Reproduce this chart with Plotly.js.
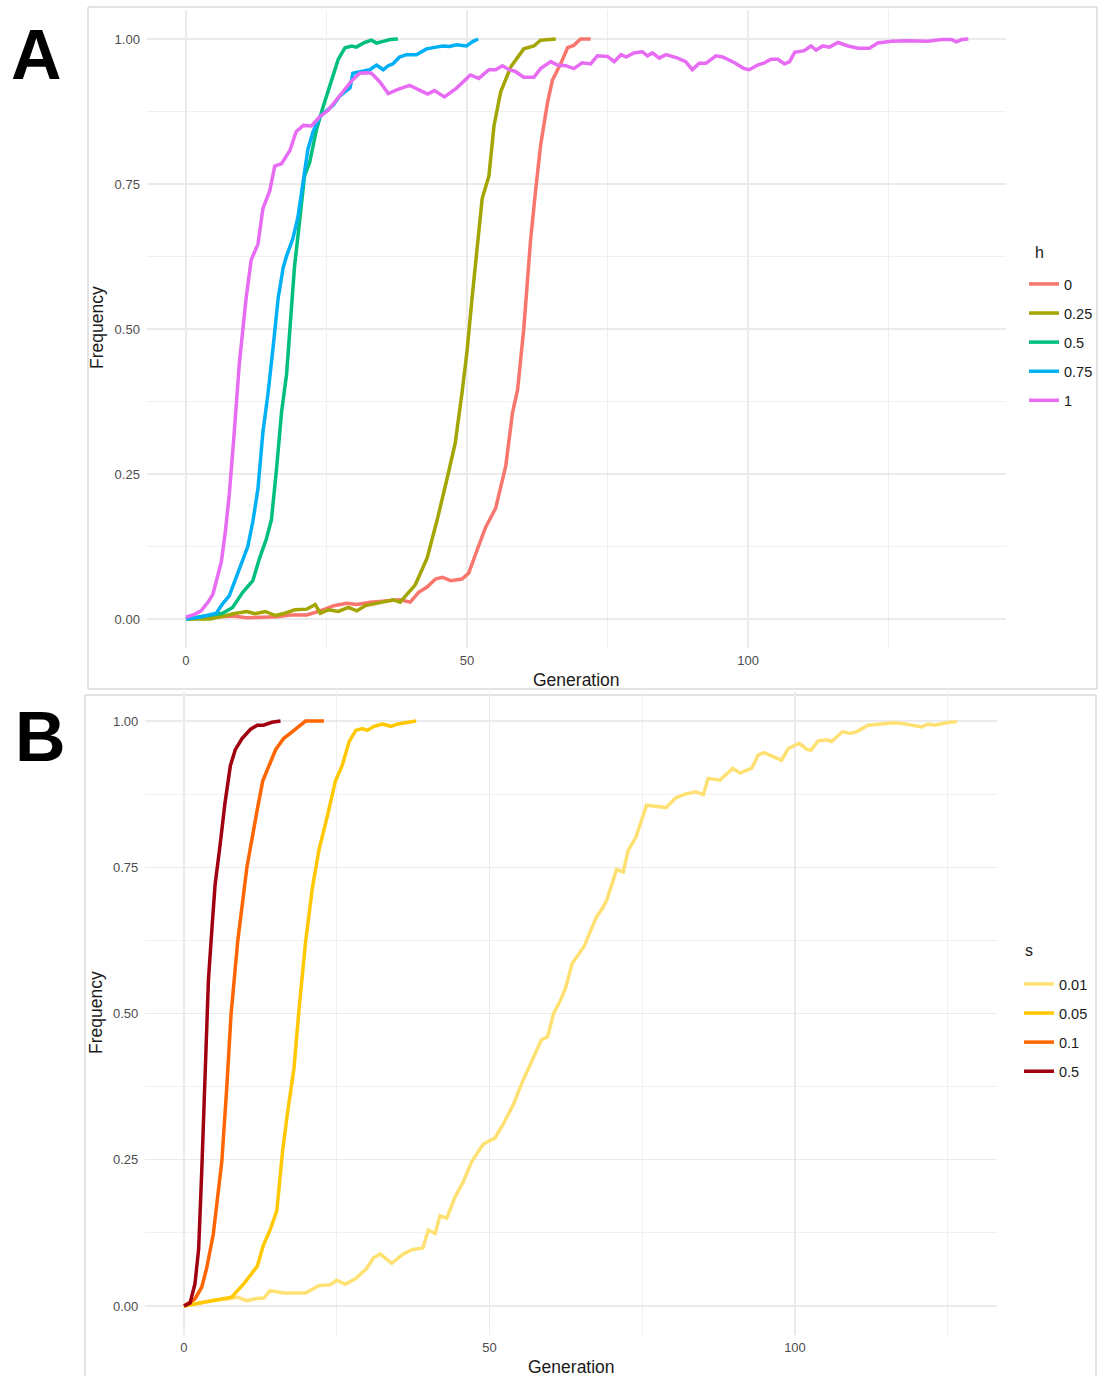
<!DOCTYPE html>
<html>
<head>
<meta charset="utf-8">
<script src="https://cdn.plot.ly/plotly-3.0.1.min.js"></script>
<style>html,body{margin:0;padding:0;background:#fff;}#chart{width:1098px;height:1376px;}</style>
</head>
<body>
<div id="chart"></div>
<script>
// ---------- Panel A: dominance h ----------
const hLevels = ["0", "0.25", "0.5", "0.75", "1"];
const hColors = ["#F8766D", "#A3A500", "#00BF7D", "#00B0F6", "#E76BF3"];

const genH0 = [0,8.4,10.8,13.2,16.2,18.5,21.5,23.9,26.3,28.6,30.4,32.8,35.8,38.1,39.9,41.4,42.9,44.4,45.6,47.1,49.1,50.3,51.8,53.3,55.1,56.9,58.1,59,60.1,61.3,62.2,63.1,64.3,65.2,66.7,67.9,69,70.2,72];
const freqH0 = [0,0.005,0.002,0.003,0.004,0.007,0.007,0.014,0.023,0.027,0.025,0.029,0.032,0.033,0.029,0.046,0.055,0.069,0.072,0.066,0.069,0.079,0.119,0.158,0.191,0.264,0.356,0.395,0.5,0.652,0.738,0.817,0.889,0.929,0.958,0.985,0.989,1.0,1.0];

const genH025 = [0,4.3,6.7,8.4,10.8,12.3,14.1,15.9,17.6,19.4,21.5,23,23.9,25.4,27.1,28.9,30.4,31.9,33.9,36,36.9,38.1,39.6,40.8,42.9,44.7,46.5,47.9,49.1,50,50.9,51.8,52.7,53.9,54.8,56,57.8,60.1,61.9,63.1,65.8];
const freqH025 = [0,0,0.005,0.009,0.013,0.009,0.013,0.006,0.01,0.016,0.017,0.025,0.01,0.016,0.013,0.02,0.014,0.023,0.027,0.031,0.033,0.029,0.046,0.059,0.105,0.171,0.244,0.303,0.389,0.461,0.553,0.646,0.725,0.764,0.85,0.909,0.952,0.983,0.988,0.998,1.0];

const genH05 = [0,4.8,6.5,8.3,10.1,11.9,13.1,14.3,15.2,16.1,17,17.9,18.5,19.3,20.2,21.1,22,23.2,24.4,25.3,26.2,27.1,28.3,29.5,30.3,31.8,33,33.9,35.1,36.3,37.7];
const freqH05 = [0,0.007,0.01,0.02,0.046,0.066,0.105,0.138,0.171,0.257,0.356,0.422,0.5,0.606,0.685,0.764,0.787,0.843,0.883,0.909,0.935,0.965,0.985,0.988,0.986,0.994,0.998,0.993,0.996,0.999,1.0];

const genH075 = [0,2.4,5.4,6.5,7.7,9.2,11,11.9,12.8,13.7,14.6,15.5,16.4,17.3,17.9,19,19.9,20.8,21.7,22.6,23.8,25,26.2,27.4,28.3,29.2,29.7,31.2,32.7,33.9,35.1,36,36.8,38,39.2,41,42.8,44.5,45.7,46.9,48.1,49.9,51.1,52];
const freqH075 = [0,0.003,0.01,0.026,0.04,0.079,0.125,0.168,0.224,0.323,0.389,0.468,0.553,0.606,0.626,0.655,0.692,0.751,0.81,0.84,0.866,0.876,0.886,0.902,0.909,0.916,0.941,0.944,0.947,0.955,0.947,0.954,0.957,0.969,0.973,0.973,0.983,0.986,0.988,0.987,0.99,0.988,0.996,1.0];

const genH1 = [0,1.5,2.7,4,4.8,5.6,6.3,7,7.7,8.6,9.5,10.7,11.6,12.8,13.7,14.9,15.8,17,18.5,19.6,20.9,22.3,23.8,25.3,26.8,28.3,29.4,30.9,32.1,33,34.5,36,37.7,39.8,41.6,43,44.2,46,48.1,49.6,50.6,52.1,53.9,55.1,56.3,57.5,58.6,60.1,61.9,63.1,64.9,66.1,67.6,69,70.5,72,73.2,75,76.2,77.4,78.3,79.7,81.2,82.1,83,84.2,85.4,87.5,88.9,90.1,91.3,92.5,94.3,95.5,97.6,99.3,100.2,101.7,102.9,104.1,105.3,106.5,107.4,108.3,110,111.2,112.1,113.3,114.5,116,117.8,119.6,121.6,123.1,125.5,128.5,132,134.4,136.2,137.1,138,139.2];
const freqH1 = [0.003,0.008,0.014,0.03,0.043,0.07,0.099,0.15,0.214,0.323,0.441,0.553,0.619,0.646,0.708,0.738,0.781,0.785,0.808,0.84,0.851,0.85,0.866,0.877,0.895,0.912,0.927,0.941,0.942,0.941,0.926,0.906,0.913,0.92,0.911,0.905,0.911,0.9,0.915,0.929,0.938,0.932,0.947,0.947,0.954,0.947,0.944,0.934,0.934,0.949,0.961,0.955,0.954,0.949,0.959,0.957,0.971,0.97,0.961,0.973,0.969,0.976,0.978,0.971,0.976,0.967,0.973,0.967,0.961,0.947,0.958,0.958,0.971,0.969,0.959,0.949,0.947,0.955,0.959,0.965,0.965,0.957,0.961,0.977,0.98,0.988,0.981,0.988,0.986,0.994,0.988,0.984,0.984,0.993,0.996,0.997,0.996,0.999,0.999,0.995,0.999,1.0];

// ---------- Panel B: selection s ----------
const sLevels = ["0.01", "0.05", "0.1", "0.5"];
const sColors = ["#FFE173", "#FFC800", "#FF6500", "#A0000F"];

const genS001 = [0,4.3,7,8.7,10.3,12,13,14.1,16.3,19.9,22.1,23.9,25,26.4,28,29.9,31,32.1,34,35.9,37.3,39.1,40,41.1,41.9,43,44.4,45.7,47.1,49,50.9,52.3,53.9,55.3,56.9,57.7,58.5,59.5,60.5,61.5,62.5,63.5,64.5,65.5,66.5,67.5,68.5,69.2,70.8,71.9,72.7,74,75.7,77.1,78.9,80.4,82,83.8,85,85.8,87.7,89.8,91,92.9,94,94.9,96.4,97.8,98.9,100.7,101.9,102.6,103.8,105.2,106,107.8,109,110.1,112,113.9,116.1,117.5,118.8,120.7,121.8,122.9,124.8,126.5];
const freqS001 = [0,0.009,0.012,0.015,0.009,0.013,0.013,0.026,0.022,0.022,0.035,0.036,0.044,0.037,0.046,0.064,0.082,0.089,0.073,0.089,0.096,0.099,0.13,0.124,0.154,0.15,0.187,0.212,0.247,0.277,0.287,0.312,0.344,0.381,0.418,0.438,0.455,0.46,0.5,0.52,0.545,0.585,0.6,0.615,0.64,0.665,0.68,0.694,0.746,0.742,0.779,0.802,0.856,0.854,0.852,0.868,0.875,0.879,0.874,0.902,0.899,0.919,0.911,0.919,0.942,0.946,0.94,0.933,0.953,0.962,0.952,0.95,0.966,0.968,0.965,0.982,0.979,0.982,0.993,0.995,0.997,0.996,0.993,0.99,0.995,0.993,0.997,0.999];

const genS005 = [0,4.3,7.8,9.8,12,13,14.1,15.2,16.1,16.9,18,18.8,19.9,21,22.1,23.5,24.8,25.9,27,28.1,29.2,30,31.1,32.5,33.9,35,36.6,38];
const freqS005 = [0,0.009,0.015,0.038,0.068,0.104,0.13,0.163,0.261,0.327,0.406,0.504,0.622,0.714,0.78,0.839,0.898,0.924,0.964,0.984,0.987,0.984,0.991,0.995,0.991,0.995,0.997,1.0];

const genS01 = [0,1.8,2.9,3.7,4.8,6.2,7,7.7,8.8,10.3,12,12.9,15,16.3,18,19.9,22.9];
const freqS01 = [0,0.012,0.032,0.064,0.123,0.248,0.373,0.498,0.624,0.75,0.849,0.898,0.951,0.97,0.984,1.0,1.0];

const genS05 = [0,1,1.8,2.4,2.9,3.5,4,4.6,5.1,5.9,6.7,7.6,8.4,9.5,10.9,12,13,14.4,15.8];
const freqS05 = [0,0.005,0.038,0.097,0.228,0.425,0.557,0.649,0.721,0.787,0.859,0.924,0.951,0.97,0.986,0.993,0.993,0.998,1.0];

const yTickVals = [0, 0.25, 0.5, 0.75, 1];
const yTickText = ["0.00", "0.25", "0.50", "0.75", "1.00"];
const xTickVals = [0, 50, 100];
const xTickText = ["0", "50", "100"];

// ---------- helpers for layout placement (pixels -> paper) ----------
const W = 1098, H = 1376;
const px = v => v / W;
const py = v => 1 - v / H;

const FONT = "Liberation Sans, Arial, Helvetica, sans-serif";
const LW = 3.5;

const hGens = [genH0, genH025, genH05, genH075, genH1];
const hFreqs = [freqH0, freqH025, freqH05, freqH075, freqH1];
const sGens = [genS001, genS005, genS01, genS05];
const sFreqs = [freqS001, freqS005, freqS01, freqS05];

const traces = [];
hLevels.forEach((lab, i) => {
  traces.push({
    type: "scatter", mode: "lines", name: lab,
    x: hGens[i], y: hFreqs[i], xaxis: "x", yaxis: "y",
    line: {color: hColors[i], width: LW},
    legend: "legend", legendgroup: "h" + i, hoverinfo: "skip"
  });
});
sLevels.forEach((lab, i) => {
  traces.push({
    type: "scatter", mode: "lines", name: lab,
    x: sGens[i], y: sFreqs[i], xaxis: "x2", yaxis: "y2",
    line: {color: sColors[i], width: LW},
    legend: "legend2", legendgroup: "s" + i, hoverinfo: "skip"
  });
});

const GRID = "#EBEBEB", MINOR = "#F0F0F0";
function xAxis(domain, range, anchor) {
  return {
    domain: domain, range: range, anchor: anchor,
    tickmode: "array", tickvals: xTickVals, ticktext: xTickText,
    showgrid: true, gridcolor: GRID, gridwidth: 1.5,
    minor: {tickmode: "array", tickvals: [25, 75, 125], showgrid: true, gridcolor: MINOR, gridwidth: 1},
    zeroline: false, showline: false, ticks: "",
    ticklabelstandoff: 3,
    tickfont: {family: FONT, size: 13, color: "#4D4D4D"},
    fixedrange: true
  };
}
function yAxis(domain, anchor) {
  return {
    domain: domain, range: [-0.05, 1.05], anchor: anchor,
    tickmode: "array", tickvals: yTickVals, ticktext: yTickText,
    showgrid: true, gridcolor: GRID, gridwidth: 1.5,
    minor: {tickmode: "array", tickvals: [0.125, 0.375, 0.625, 0.875], showgrid: true, gridcolor: MINOR, gridwidth: 1},
    zeroline: false, showline: false, ticks: "",
    ticklabelstandoff: 6,
    tickfont: {family: FONT, size: 13, color: "#4D4D4D"},
    fixedrange: true
  };
}

function legendBox(xpx, ypx, xanchor) {
  return {
    x: px(xpx), y: py(ypx), xanchor: xanchor, yanchor: "top",
    xref: "paper", yref: "paper",
    font: {family: FONT, size: 14.5, color: "#1A1A1A"},
    traceorder: "grouped", tracegroupgap: 7.25,
    bgcolor: "rgba(0,0,0,0)", borderwidth: 0, itemwidth: 30
  };
}

const annots = [
  {text: "<b>A</b>", x: px(36), y: py(55), font: {family: FONT, size: 70, color: "#000"}},
  {text: "<b>B</b>", x: px(40), y: py(737), font: {family: FONT, size: 70, color: "#000"}},
  {text: "Generation", x: px(576), y: py(680), font: {family: FONT, size: 17.5, color: "#1A1A1A"}},
  {text: "Generation", x: px(571), y: py(1367), font: {family: FONT, size: 17.5, color: "#1A1A1A"}},
  {text: "Frequency", x: px(97), y: py(328), textangle: -90, font: {family: FONT, size: 17.5, color: "#1A1A1A"}},
  {text: "Frequency", x: px(96), y: py(1013), textangle: -90, font: {family: FONT, size: 17.5, color: "#1A1A1A"}},
  // legend titles
  {text: "h", x: px(1033), y: py(252), xanchor: "left", font: {family: FONT, size: 16, color: "#1A1A1A"}},
  {text: "s", x: px(1023), y: py(951), xanchor: "left", font: {family: FONT, size: 16, color: "#1A1A1A"}}
].map(a => Object.assign({xref: "paper", yref: "paper", showarrow: false, xanchor: "center", yanchor: "middle"}, a));

const layout = {
  width: W, height: H,
  margin: {l: 0, r: 0, t: 0, b: 0},
  paper_bgcolor: "#FFFFFF", plot_bgcolor: "#FFFFFF",
  font: {family: FONT, color: "#4D4D4D"},
  showlegend: true,
  xaxis: xAxis([px(146.9), px(1006)], [-6.95, 145.9], "y"),
  yaxis: yAxis([py(648), py(10)], "x"),
  xaxis2: xAxis([px(145.3), px(996.6)], [-6.33, 133.0], "y2"),
  yaxis2: yAxis([py(1335.2), py(691.8)], "x2"),
  legend: legendBox(W, 268, "right"),
  legend2: legendBox(1019, 968, "left"),
  annotations: annots,
  shapes: [
    {type: "rect", xref: "paper", yref: "paper", x0: px(88), x1: px(1097), y0: py(689), y1: py(7), line: {color: "#C8C8C8", width: 1}, layer: "below"},
    {type: "rect", xref: "paper", yref: "paper", x0: px(85), x1: px(1096), y0: py(1380), y1: py(695), line: {color: "#C8C8C8", width: 1}, layer: "below"}
  ]
};

Plotly.newPlot("chart", traces, layout, {staticPlot: true, displayModeBar: false});
</script>
</body>
</html>
